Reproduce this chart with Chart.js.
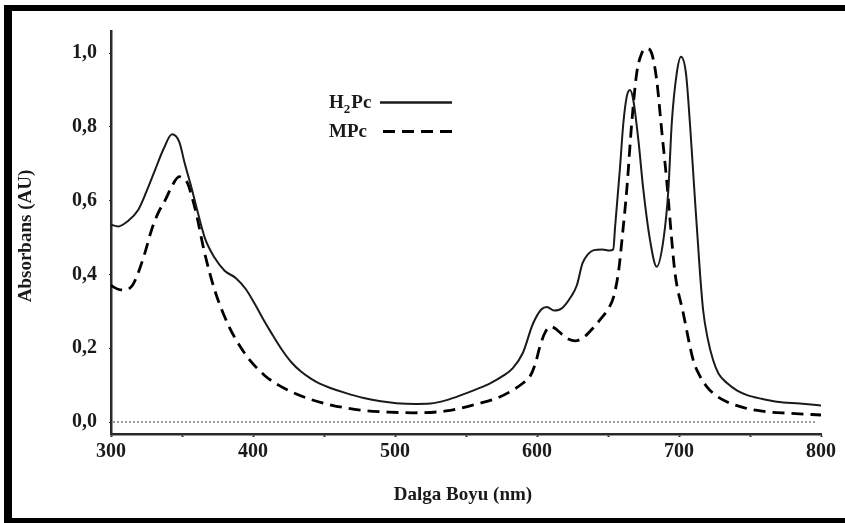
<!DOCTYPE html>
<html>
<head>
<meta charset="utf-8">
<title>Absorbans</title>
<script src="https://cdn.jsdelivr.net/npm/chart.js@4.4.1/dist/chart.umd.min.js"></script>
<style>
  html, body { margin: 0; padding: 0; background: #fff; }
  canvas { display: block; }
</style>
</head>
<body>
<canvas id="chart" width="845" height="523"></canvas>
<script>
// H2Pc (solid)
const h2pcWavelength = [300, 305, 312, 319, 325, 331, 337, 343, 348, 352, 356, 360, 366, 373, 380, 388, 395, 401, 407, 413, 420, 427, 434, 441, 447, 454, 465, 478, 490, 501, 515, 525, 537, 548, 558, 567, 576, 583, 590, 597, 603, 607, 612, 618, 624, 628, 632, 636, 640, 646, 651, 653.7, 655, 658.5, 660.8, 663.2, 665.5, 667.8, 671.4, 674.9, 679.6, 684.3, 689, 692.5, 694.9, 698.4, 701.4, 704.9, 707.7, 710.8, 714.8, 717, 720, 724, 728, 734, 741, 748, 758, 769, 785, 800];
const h2pcAbs = [0.535, 0.53, 0.545, 0.574, 0.625, 0.683, 0.74, 0.78, 0.76, 0.70, 0.645, 0.585, 0.50, 0.445, 0.41, 0.39, 0.36, 0.322, 0.28, 0.241, 0.198, 0.162, 0.136, 0.117, 0.104, 0.093, 0.079, 0.065, 0.056, 0.051, 0.049, 0.05, 0.06, 0.075, 0.09, 0.105, 0.125, 0.146, 0.187, 0.265, 0.305, 0.312, 0.302, 0.31, 0.34, 0.37, 0.43, 0.455, 0.466, 0.468, 0.465, 0.468, 0.529, 0.692, 0.81, 0.882, 0.90, 0.873, 0.764, 0.629, 0.493, 0.421, 0.493, 0.629, 0.81, 0.945, 0.99, 0.945, 0.81, 0.629, 0.403, 0.303, 0.23, 0.168, 0.13, 0.105, 0.085, 0.073, 0.063, 0.055, 0.05, 0.045];

// MPc (dashed)
const mpcWavelength = [300, 305, 310, 315, 319, 324, 328.5, 333, 338, 343, 348, 351, 354, 357, 360, 366, 373, 382, 394, 408, 418, 427, 440, 455, 478, 495, 513, 536, 560, 572, 581, 590, 595, 599, 602, 606, 610, 614, 618, 622, 627, 633, 639.5, 645, 651, 654, 657.5, 660, 663.2, 666.7, 670.2, 673.7, 677.3, 680.8, 684.3, 687.8, 691.3, 694.9, 697.2, 703, 710, 714, 719.5, 726, 733.6, 742, 752, 764, 776, 800];
const mpcAbs = [0.37, 0.36, 0.358, 0.37, 0.403, 0.46, 0.52, 0.565, 0.60, 0.64, 0.665, 0.66, 0.647, 0.61, 0.566, 0.457, 0.358, 0.268, 0.187, 0.127, 0.1, 0.082, 0.062, 0.046, 0.031, 0.027, 0.025, 0.03, 0.051, 0.065, 0.082, 0.105, 0.123, 0.16, 0.204, 0.245, 0.258, 0.25, 0.236, 0.225, 0.22, 0.23, 0.255, 0.28, 0.312, 0.34, 0.41, 0.5, 0.629, 0.81, 0.945, 0.999, 1.013, 0.999, 0.927, 0.791, 0.656, 0.493, 0.403, 0.295, 0.168, 0.13, 0.096, 0.072, 0.055, 0.043, 0.033, 0.027, 0.024, 0.019];

const xTicks = [300, 350, 400, 450, 500, 550, 600, 650, 700, 750, 800];
const xLabels = ['300', '', '400', '', '500', '', '600', '', '700', '', '800'];
const yTicks = [0, 0.2, 0.4, 0.6, 0.8, 1.0];
const yLabels = ['0,0', '0,2', '0,4', '0,6', '0,8', '1,0'];

const serif = '"Liberation Serif", "DejaVu Serif", serif';
const ink = '#1a1a1a';

const toPoints = (xs, ys) => xs.map((x, i) => ({ x: x, y: ys[i] }));

// Dotted zero line, frame, axis titles and the inline legend
const decorations = {
  id: 'decorations',
  beforeDatasetsDraw(chart) {
    const ctx = chart.ctx;
    const y0 = chart.scales.y.getPixelForValue(0);
    ctx.save();
    ctx.strokeStyle = '#666';
    ctx.lineWidth = 1.3;
    ctx.setLineDash([2, 2]);
    ctx.beginPath();
    ctx.moveTo(chart.chartArea.left + 2, y0);
    ctx.lineTo(chart.scales.x.getPixelForValue(797), y0);
    ctx.stroke();
    ctx.restore();
  },
  afterDraw(chart) {
    const ctx = chart.ctx;
    ctx.save();

    // black frame (no right side)
    ctx.fillStyle = '#000';
    ctx.fillRect(4, 5, 841, 6);
    ctx.fillRect(4, 5, 8, 518);
    ctx.fillRect(4, 518, 841, 5);

    ctx.fillStyle = ink;
    ctx.font = 'bold 19px ' + serif;

    // x title
    ctx.textAlign = 'center';
    ctx.textBaseline = 'middle';
    ctx.fillText('Dalga Boyu (nm)', 463, 495);

    // y title
    ctx.save();
    ctx.translate(26, 236);
    ctx.rotate(-Math.PI / 2);
    ctx.fillText('Absorbans (AU)', 0, 0);
    ctx.restore();

    // legend
    ctx.textAlign = 'left';
    ctx.textBaseline = 'alphabetic';
    let x = 329;
    ctx.fillText('H', x, 108);
    x += ctx.measureText('H').width;
    ctx.font = 'bold 13px ' + serif;
    ctx.fillText('2', x, 113);
    x += ctx.measureText('2').width + 1;
    ctx.font = 'bold 19px ' + serif;
    ctx.fillText('Pc', x, 108);
    ctx.fillText('MPc', 329, 137);

    ctx.strokeStyle = ink;
    ctx.lineWidth = 2.5;
    ctx.beginPath();
    ctx.moveTo(380, 102.5);
    ctx.lineTo(452, 102.5);
    ctx.stroke();

    ctx.strokeStyle = '#000';
    ctx.lineWidth = 2.8;
    ctx.setLineDash([12, 7]);
    ctx.beginPath();
    ctx.moveTo(383, 131.5);
    ctx.lineTo(452, 131.5);
    ctx.stroke();

    ctx.restore();
  }
};

new Chart(document.getElementById('chart'), {
  type: 'line',
  data: {
    datasets: [
      {
        label: 'H2Pc',
        data: toPoints(h2pcWavelength, h2pcAbs),
        borderColor: ink,
        borderWidth: 2,
        pointRadius: 0,
        cubicInterpolationMode: 'monotone',
        fill: false
      },
      {
        label: 'MPc',
        data: toPoints(mpcWavelength, mpcAbs),
        borderColor: '#000',
        borderWidth: 2.8,
        borderDash: [12, 7],
        pointRadius: 0,
        cubicInterpolationMode: 'monotone',
        fill: false
      }
    ]
  },
  options: {
    responsive: false,
    animation: false,
    events: [],
    layout: { padding: { left: 0, right: 24, top: 31, bottom: 0 } },
    plugins: {
      legend: { display: false },
      tooltip: { enabled: false }
    },
    scales: {
      x: {
        type: 'linear',
        min: 300,
        max: 800,
        afterFit: scale => { scale.height = 89; },
        afterBuildTicks: scale => { scale.ticks = xTicks.map(v => ({ value: v })); },
        border: { display: true, color: '#2a2a2a', width: 2.5 },
        grid: { drawOnChartArea: false, drawTicks: true, tickLength: 3, tickColor: '#2a2a2a', tickWidth: 2 },
        ticks: {
          autoSkip: false,
          maxRotation: 0,
          padding: 3,
          color: ink,
          font: { family: serif, size: 20, weight: 'bold' },
          callback: (v, i) => xLabels[i]
        }
      },
      y: {
        min: -0.0325,
        max: 1.06,
        afterFit: scale => { scale.width = 111; },
        afterBuildTicks: scale => { scale.ticks = yTicks.map(v => ({ value: v })); },
        border: { display: true, color: '#2a2a2a', width: 2.5 },
        grid: { drawOnChartArea: false, drawTicks: true, tickLength: 2, tickColor: '#2a2a2a' },
        ticks: {
          padding: 12,
          color: ink,
          font: { family: serif, size: 20, weight: 'bold' },
          callback: (v, i) => yLabels[i]
        }
      }
    }
  },
  plugins: [decorations]
});
</script>
</body>
</html>
